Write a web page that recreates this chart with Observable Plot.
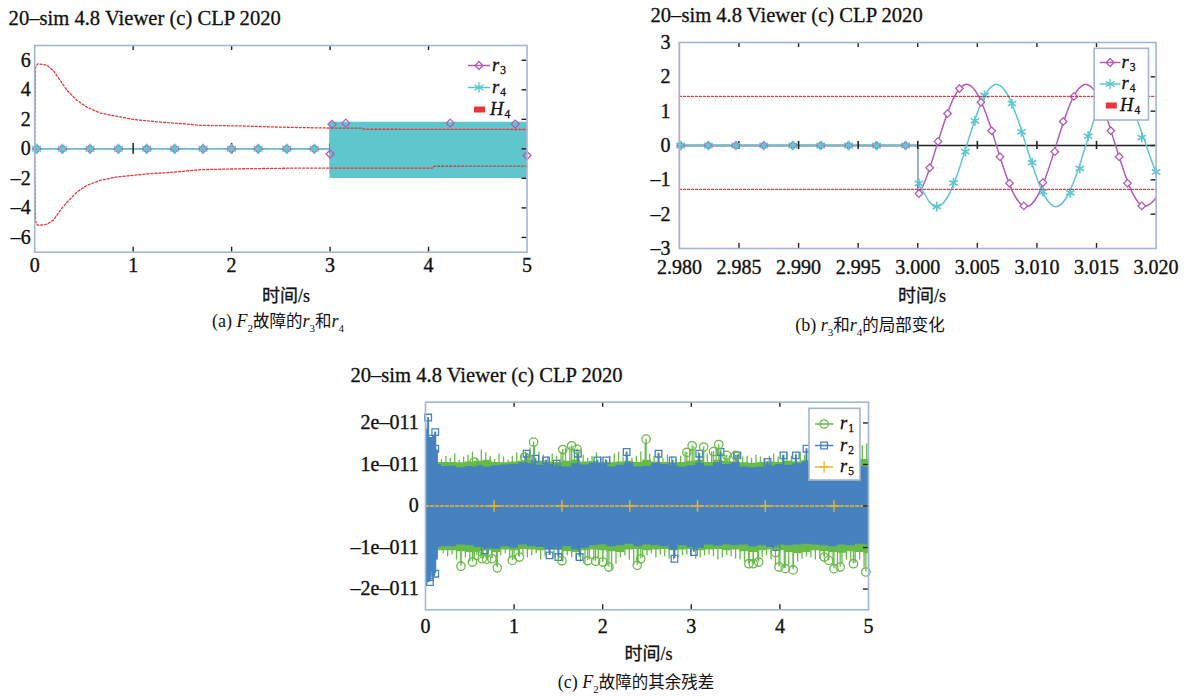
<!DOCTYPE html>
<html><head><meta charset="utf-8">
<script src="https://cdn.jsdelivr.net/npm/d3@7"></script>
<script src="https://cdn.jsdelivr.net/npm/@observablehq/plot@0.6"></script>
<style>
body{margin:0;background:#fff;}
#page{position:relative;width:1187px;height:698px;overflow:hidden;font-family:"Liberation Serif","Tinos","Times New Roman","Nimbus Roman","DejaVu Serif","Noto Sans CJK SC",serif;color:#111;background:#fff;}
.t{position:absolute;white-space:nowrap;line-height:1;-webkit-text-stroke:0.3px #111;}
.title{font-size:20.6px;transform:translateY(-50%);}
.xlab{font-size:18px;transform:translate(-50%,-50%);}
.xlab .zh{font-family:"Noto Sans CJK SC",sans-serif;}
.cap{font-size:18px;transform:translate(-50%,-50%);-webkit-text-stroke:0;}
.cap .zh{font-family:"Noto Sans CJK SC",sans-serif;font-size:16.5px;}
.cap sub{font-size:11px;vertical-align:-0.45em;}
</style></head><body><div id="page"></div>
<script>
// ---------- colours ----------
const frameColor = "#a3b6d3", cPurple = "#b35cb8", cCyan = "#5ec7cd", cRed = "#e8373c",
      cGreen = "#68bb48", cBlue = "#4682bf", cOrange = "#f0b323", cTick = "#222";
const FONT = '"Liberation Serif","Tinos","Times New Roman","Nimbus Roman","DejaVu Serif",serif';

// ---------- panel (a) data ----------
const aTicksX = [0, 1, 2, 3, 4, 5];
const aTicksY = [-6, -4, -2, 0, 2, 4, 6];
const aInnerX = [1, 2, 3, 4];
const aZeroTicks = [1, 2, 3, 4];
const h4UpT = [0, 0.008, 0.03, 0.08, 0.126, 0.19, 0.26, 0.33, 0.43, 0.53, 0.668, 0.837, 1.006, 1.17, 1.35, 1.51, 1.68, 1.9, 2.1, 2.45, 2.7, 3.0, 3.33, 3.34, 4.2, 5.0];
const h4Up  = [0, 5.5, 5.76, 5.72, 5.65, 5.3, 4.63, 3.95, 3.28, 2.82, 2.42, 2.2, 1.99, 1.88, 1.77, 1.70, 1.59, 1.57, 1.55, 1.48, 1.44, 1.41, 1.40, 1.33, 1.32, 1.31];
const h4LoT = [0, 0.008, 0.03, 0.08, 0.126, 0.19, 0.26, 0.33, 0.43, 0.53, 0.668, 0.837, 1.006, 1.17, 1.35, 1.51, 1.68, 1.9, 2.1, 2.45, 2.7, 4.04, 4.05, 5.0];
const h4Lo  = [0, -4.9, -5.17, -5.15, -5.1, -4.83, -4.16, -3.6, -2.92, -2.47, -2.13, -1.9, -1.79, -1.68, -1.61, -1.52, -1.41, -1.38, -1.35, -1.32, -1.30, -1.30, -1.18, -1.17];
const aPreT = [0, 3.0];
const aPreV = [0, 0];
const aMarkT = [0.02, 0.281, 0.562, 0.85, 1.138, 1.422, 1.71, 1.998, 2.27, 2.56, 2.84];
const aBlockT = [3.0, 5.0];
const aR3BlockHi = [1.76, 1.76], aR3BlockLo = [-1.76, -1.76];
const aR4BlockHi = [1.81, 1.81], aR4BlockLo = [-2.01, -2.01];
const aR3BlockMarkT = [3.0, 3.02, 3.16, 4.22, 4.88, 5.0];
const aR3BlockMarkV = [-0.35, 1.66, 1.74, 1.74, 1.68, -0.45];

// ---------- panel (b) data ----------
const bTicksX = [2.980, 2.985, 2.990, 2.995, 3.000, 3.005, 3.010, 3.015, 3.020];
const bTicksY = [-3, -2, -1, 0, 1, 2, 3];
const bInnerX = [2.985, 2.990, 2.995, 3.000, 3.005, 3.010, 3.015];
const bRightY = [-2, -1, 0, 1, 2];
const bPreT = [2.980, 3.000];
const bPreV = [0, 0];
const bT = [3.0000, 3.0005, 3.0010, 3.0015, 3.0020, 3.0025, 3.0030, 3.0035, 3.0040, 3.0045,
            3.0050, 3.0055, 3.0060, 3.0065, 3.0070, 3.0075, 3.0080, 3.0085, 3.0090, 3.0095,
            3.0100, 3.0105, 3.0110, 3.0115, 3.0120, 3.0125, 3.0130, 3.0135, 3.0140, 3.0145,
            3.0150, 3.0155, 3.0160, 3.0165, 3.0170, 3.0175, 3.0180, 3.0185, 3.0190, 3.0195, 3.0200];
const bR3 = [-1.45, -1.13, -0.66, -0.11, 0.44, 0.95, 1.37, 1.65, 1.78, 1.72,
             1.50, 1.13, 0.66, 0.11, -0.44, -0.95, -1.37, -1.65, -1.78, -1.72,
             -1.50, -1.13, -0.66, -0.11, 0.44, 0.95, 1.37, 1.65, 1.78, 1.72,
             1.50, 1.13, 0.66, 0.11, -0.44, -0.95, -1.37, -1.65, -1.77, -1.70, -1.52];
const bR4 = [-1.08, -1.37, -1.65, -1.78, -1.72, -1.50, -1.13, -0.66, -0.11, 0.44,
             0.95, 1.37, 1.65, 1.78, 1.72, 1.50, 1.13, 0.66, 0.11, -0.44,
             -0.95, -1.37, -1.65, -1.78, -1.72, -1.50, -1.13, -0.66, -0.11, 0.44,
             0.95, 1.37, 1.65, 1.78, 1.72, 1.50, 1.13, 0.66, 0.18, -0.33, -0.80];
const bPreMarkT = [2.9801, 2.98243, 2.98474, 2.98708, 2.98952, 2.99186, 2.9942, 2.99654, 2.99897];
const bR3MarkT = [3.0001, 3.0010, 3.0017, 3.0025, 3.0035, 3.0053, 3.0062, 3.0069, 3.0077, 3.0089, 3.0105, 3.0115, 3.0122, 3.0131, 3.0162, 3.0169, 3.0176, 3.0188];
const bR3MarkV = [-1.40, -0.65, 0.12, 0.93, 1.66, 1.26, 0.43, -0.33, -1.10, -1.76, -1.08, -0.18, 0.70, 1.43, 0.43, -0.33, -1.10, -1.76];
const bR4MarkT = [3.0001, 3.0016, 3.0030, 3.0040, 3.0048, 3.0056, 3.0079, 3.0087, 3.0096, 3.0105, 3.0128, 3.0136, 3.0143, 3.0188, 3.0200];
const bR4MarkV = [-1.10, -1.78, -1.09, -0.18, 0.72, 1.46, 1.22, 0.40, -0.50, -1.35, -1.38, -0.67, 0.27, 0.23, -0.77];
const bH4T = [2.980, 3.020];
const bH4Up = [1.43, 1.43];
const bH4Lo = [-1.28, -1.28];

// ---------- panel (c) data (values in units of 1e-11) ----------
const cTicksX = [0, 1, 2, 3, 4, 5];
const cTicksY = [-2, -1, 0, 1, 2];
const cInnerX = [1, 2, 3, 4];
const cEnvT = [0, 0.03, 0.06, 0.1, 0.13, 0.16, 0.2,
  0.3, 0.4, 0.5, 0.6, 0.7, 0.8, 0.9, 1.0, 1.1, 1.2, 1.3, 1.4, 1.5, 1.6, 1.7, 1.8, 1.9, 2.0, 2.1, 2.2,
  2.3, 2.4, 2.5, 2.6, 2.7, 2.8, 2.9, 3.0, 3.1, 3.2, 3.3, 3.4, 3.5, 3.6, 3.7, 3.8, 3.9, 4.0, 4.1, 4.2,
  4.3, 4.4, 4.5, 4.6, 4.7, 4.8, 4.9, 5.0];
const r2Hi = [2.0, 1.85, 1.65, 1.7, 1.35, 1.0, 0.95,
  0.96, 0.92, 0.95, 0.98, 0.94, 0.97, 0.99, 1.0, 1.04, 1.02, 0.98, 1.0, 0.96, 0.94, 1.02, 0.99, 1.03, 1.0, 0.94, 0.98,
  1.04, 0.94, 0.96, 1.03, 1.0, 0.98, 0.94, 0.97, 1.03, 0.96, 1.04, 1.0, 1.04, 0.94, 0.92, 0.94, 0.96, 1.0, 0.98, 1.02,
  1.06, 0.98, 0.94, 0.96, 0.98, 0.94, 0.96, 0.94];
const r2Lo = [-1.7, -1.85, -1.6, -1.7, -1.3, -1.0, -0.98,
  -0.98, -0.94, -0.96, -1.0, -1.02, -1.04, -0.98, -1.02, -0.94, -0.98, -1.0, -1.06, -1.04, -0.98, -1.06, -1.02, -0.96, -0.94, -0.98, -0.96,
  -0.92, -0.98, -0.94, -0.96, -0.98, -1.06, -0.96, -1.0, -1.02, -0.94, -0.97, -0.94, -0.96, -0.94, -0.98, -0.96, -1.0, -0.94, -0.96, -0.94,
  -0.92, -0.94, -0.96, -0.98, -0.94, -0.96, -0.92, -0.94];
const r1Hi = [1.6, 1.5, 1.4, 1.4, 1.2, 1.05, 1.05,
  1.05, 1.04, 1.06, 1.08, 1.1, 1.05, 1.04, 1.06, 1.08, 1.1, 1.08, 1.06, 1.05, 1.08, 1.1, 1.06, 1.07, 1.05, 1.04, 1.06,
  1.08, 1.05, 1.1, 1.06, 1.05, 1.04, 1.05, 1.08, 1.1, 1.05, 1.1, 1.08, 1.06, 1.04, 1.03, 1.05, 1.06, 1.05, 1.08, 1.06,
  1.1, 1.1, 1.06, 1.05, 1.08, 1.1, 1.12, 1.12];
const r1Lo = [-1.5, -1.5, -1.4, -1.4, -1.2, -1.08, -1.08,
  -1.08, -1.1, -1.12, -1.1, -1.08, -1.12, -1.06, -1.08, -1.05, -1.06, -1.08, -1.06, -1.07, -1.1, -1.12, -1.08, -1.06, -1.08, -1.1, -1.12,
  -1.06, -1.05, -1.08, -1.06, -1.05, -1.08, -1.06, -1.05, -1.08, -1.06, -1.05, -1.08, -1.06, -1.1, -1.12, -1.08, -1.06, -1.08, -1.12, -1.15,
  -1.12, -1.08, -1.1, -1.12, -1.14, -1.1, -1.12, -1.15];
const r1UpSpikeT = [0.18, 0.23, 0.28, 0.33, 0.38, 0.43, 0.48, 0.53, 0.58, 0.63, 0.68, 0.73, 0.78, 0.83, 0.88, 0.93, 0.98,
  1.03, 1.08, 1.13, 1.18, 1.23, 1.28, 1.33, 1.38, 1.43, 1.48, 1.53, 1.58, 1.63, 1.68, 1.73, 1.78, 1.83, 1.88, 1.93, 1.98,
  2.03, 2.08, 2.13, 2.18, 2.23, 2.28, 2.33, 2.38, 2.43, 2.48, 2.53, 2.58, 2.63, 2.68, 2.73, 2.78, 2.83, 2.88, 2.93, 2.98,
  3.03, 3.08, 3.13, 3.18, 3.23, 3.28, 3.33, 3.38, 3.43, 3.48, 3.53, 3.58, 3.63, 3.68, 3.73, 3.78, 3.83, 3.88, 3.93, 3.98,
  4.03, 4.08, 4.13, 4.18, 4.23, 4.28, 4.33, 4.38, 4.43, 4.48, 4.53, 4.58, 4.63, 4.68, 4.73, 4.78, 4.83, 4.88, 4.93, 4.98];
const r1UpSpikeV = [1.12, 1.2, 1.15, 1.25, 1.1, 1.18, 1.22, 1.3, 1.15, 1.35, 1.28, 1.2, 1.12, 1.25, 1.18, 1.1, 1.2,
  1.28, 1.22, 1.3, 1.4, 1.45, 1.3, 1.22, 1.18, 1.25, 1.2, 1.3, 1.38, 1.42, 1.35, 1.3, 1.22, 1.15, 1.2, 1.28, 1.18,
  1.12, 1.2, 1.25, 1.3, 1.18, 1.22, 1.15, 1.2, 1.3, 1.5, 1.25, 1.2, 1.28, 1.15, 1.22, 1.18, 1.12, 1.2, 1.3, 1.38,
  1.42, 1.3, 1.35, 1.25, 1.3, 1.4, 1.35, 1.22, 1.2, 1.3, 1.25, 1.18, 1.2, 1.15, 1.22, 1.18, 1.12, 1.2, 1.25, 1.18,
  1.22, 1.28, 1.2, 1.25, 1.3, 1.22, 1.35, 1.28, 1.2, 1.25, 1.3, 1.22, 1.28, 1.35, 1.25, 1.3, 1.4, 1.35, 1.45, 1.5];
const r1LoSpikeT = [0.2, 0.25, 0.3, 0.35, 0.4, 0.45, 0.5, 0.55, 0.6, 0.65, 0.7, 0.75, 0.8, 0.85, 0.9, 0.95, 1.0,
  1.05, 1.1, 1.15, 1.2, 1.25, 1.3, 1.35, 1.4, 1.45, 1.5, 1.55, 1.6, 1.65, 1.7, 1.75, 1.8, 1.85, 1.9, 1.95, 2.0,
  2.05, 2.1, 2.15, 2.2, 2.25, 2.3, 2.35, 2.4, 2.45, 2.5, 2.55, 2.6, 2.65, 2.7, 2.75, 2.8, 2.85, 2.9, 2.95, 3.0,
  3.05, 3.1, 3.15, 3.2, 3.25, 3.3, 3.35, 3.4, 3.45, 3.5, 3.55, 3.6, 3.65, 3.7, 3.75, 3.8, 3.85, 3.9, 3.95, 4.0,
  4.05, 4.1, 4.15, 4.2, 4.25, 4.3, 4.35, 4.4, 4.45, 4.5, 4.55, 4.6, 4.65, 4.7, 4.75, 4.8, 4.85, 4.9, 4.95, 5.0];
const r1LoSpikeV = [-1.15, -1.22, -1.18, -1.3, -1.4, -1.25, -1.35, -1.3, -1.22, -1.28, -1.32, -1.25, -1.45, -1.2, -1.15, -1.28, -1.3,
  -1.22, -1.18, -1.25, -1.2, -1.15, -1.3, -1.22, -1.18, -1.25, -1.3, -1.35, -1.2, -1.25, -1.3, -1.35, -1.4, -1.3, -1.32, -1.28, -1.35,
  -1.45, -1.55, -1.4, -1.25, -1.2, -1.3, -1.42, -1.35, -1.25, -1.2, -1.15, -1.25, -1.18, -1.22, -1.28, -1.3, -1.25, -1.2, -1.18, -1.22,
  -1.28, -1.25, -1.2, -1.18, -1.22, -1.3, -1.25, -1.2, -1.22, -1.28, -1.3, -1.35, -1.38, -1.4, -1.32, -1.25, -1.2, -1.3, -1.42, -1.45,
  -1.5, -1.45, -1.5, -1.35, -1.28, -1.22, -1.25, -1.3, -1.28, -1.25, -1.3, -1.45, -1.48, -1.4, -1.3, -1.35, -1.38, -1.3, -1.5, -1.55];
const r1MarkT = [0.40, 0.53, 0.58, 0.64, 0.69, 0.75, 0.81, 0.98, 1.06, 1.22, 1.55, 1.65, 1.71, 1.54, 1.83, 1.92, 2.0, 2.07, 2.39, 2.43, 2.49, 2.95, 3.01, 3.14, 3.25, 3.31, 3.40, 3.50, 3.65, 3.70, 3.76, 3.95, 3.99, 4.06, 4.15, 4.50, 4.55, 4.61, 4.68, 4.83, 4.97, 0.55, 1.12];
const r1MarkV = [-1.45, -1.35, -1.19, -1.27, -1.28, -1.27, -1.49, -1.31, -1.23, 1.54, 1.36, 1.45, 1.37, -1.32, -1.32, -1.33, -1.35, -1.47, -1.43, -1.27, 1.61, 1.29, 1.45, 1.42, 1.31, 1.48, 1.22, 1.22, -1.39, -1.39, -1.35, -1.12, -1.47, -1.51, -1.54, -1.23, -1.31, -1.51, -1.47, -1.39, -1.59, 1.06, 1.18];
const r2MarkT = [0.03, 0.07, 0.11, 0.11, 1.14, 1.24, 1.36, 1.48, 1.72, 1.94, 2.04, 2.27, 2.63, 2.79, 3.09, 3.33, 3.52, 3.86, 4.04, 4.18, 4.30,
  0.05, 0.11, 0.05, 0.67, 1.40, 1.50, 1.74, 2.81, 3.03, 3.96];
const r2MarkV = [2.13, 1.62, 1.78, 1.38, 1.26, 1.14, 1.10, 1.02, 1.26, 1.10, 1.10, 1.30, 1.26, 1.10, 1.26, 1.30, 1.22, 1.06, 1.22, 1.22, 1.38,
  -1.71, -1.63, -1.83, -1.07, -1.19, -1.23, -1.23, -1.27, -1.11, -0.99];
const r5T = [0, 5];
const r5V = [0, 0];
const r5MarkT = [0.774, 1.54, 2.306, 3.07, 3.835, 4.61];
const E11 = 1e-11;

// ---------- helpers ----------
const page = document.getElementById("page");
const rows = (ts, vs) => ts.map((t, i) => ({t, v: vs[i]}));
const band = (ts, lo, hi) => ts.map((t, i) => ({t, lo: lo[i], hi: hi[i]}));
const minusFmt = d => d < 0 ? "\u2013" + (-d) : String(d);

function frameTicks(xd, yd, xin, yr, fw, fh, len = 5) {
  const ly = (yd[1] - yd[0]) * len / fh, lx = (xd[1] - xd[0]) * len / fw;
  return [
    Plot.ruleX(xin, {x: d => d, y1: yd[1], y2: yd[1] - ly, stroke: cTick, strokeWidth: 1.4}),
    Plot.ruleX(xin, {x: d => d, y1: yd[0], y2: yd[0] + ly, stroke: cTick, strokeWidth: 1.4}),
    Plot.ruleY(yr, {y: d => d, x1: xd[1], x2: xd[1] - lx, stroke: cTick, strokeWidth: 1.4})
  ];
}
function place(o) {
  const p = Plot.plot({
    width: o.w, height: o.h,
    marginLeft: o.ml, marginRight: o.mr, marginTop: o.mt, marginBottom: o.mb,
    style: {fontFamily: FONT, fontSize: "20px", color: "#111", background: "none", overflow: "visible"},
    x: {domain: o.xd, ticks: o.xt, tickFormat: o.xf, tickSize: 0, tickPadding: o.xp, label: null},
    y: {domain: o.yd, ticks: o.yt, tickFormat: o.yf, tickSize: 0, tickPadding: o.yp, label: null},
    marks: [...o.marks, ...frameTicks(o.xd, o.yd, o.xin, o.yr, o.w - o.ml - o.mr, o.h - o.mt - o.mb),
            Plot.frame({stroke: frameColor, strokeWidth: 1.6})]
  });
  p.style.position = "absolute"; p.style.left = o.left + "px"; p.style.top = o.top + "px";
  p.querySelectorAll("text").forEach(t => { t.style.fontFamily = FONT; t.style.stroke = "#111"; t.style.strokeWidth = "0.35px"; });
  page.appendChild(p);
}
function html(cls, x, y, s) {
  const d = document.createElement("div");
  d.className = "t " + cls; d.style.left = x + "px"; d.style.top = y + "px"; d.innerHTML = s;
  page.appendChild(d);
}
function legend(box, items) {
  const svg = d3.create("svg").attr("width", 1187).attr("height", 698)
    .style("position", "absolute").style("left", "0px").style("top", "0px").style("pointer-events", "none");
  if (box) svg.append("rect").attr("x", box[0]).attr("y", box[1]).attr("width", box[2] - box[0]).attr("height", box[3] - box[1])
    .attr("fill", "#fff").attr("stroke", frameColor).attr("stroke-width", 1.6);
  for (const it of items) {
    if (it.rect) {
      svg.append("rect").attr("x", it.x0 + 6).attr("y", it.y - 3).attr("width", 11).attr("height", 6).attr("fill", it.color);
    } else {
      svg.append("line").attr("x1", it.x0).attr("x2", it.x1).attr("y1", it.y).attr("y2", it.y)
        .attr("stroke", it.color).attr("stroke-width", 1.5).attr("stroke-dasharray", it.dash || null);
      svg.append("path").attr("transform", `translate(${(it.x0 + it.x1) / 2},${it.y})`)
        .attr("d", d3.symbol(it.sym, it.size)()).attr("fill", "none").attr("stroke", it.color).attr("stroke-width", 1.3);
    }
    const t = svg.append("text").attr("x", it.tx).attr("y", it.y + 5).style("font-family", FONT).attr("fill", "#111")
      .attr("stroke", "#111").attr("stroke-width", 0.3);
    t.append("tspan").attr("font-style", "italic").attr("font-size", 18.5).text(it.label);
    t.append("tspan").attr("font-size", 11.5).attr("dy", 3).attr("dx", 1).text(it.sub);
  }
  page.appendChild(svg.node());
}

// ---------- panel (a) ----------
place({
  left: 0, top: 0, w: 545, h: 290, ml: 34.2, mr: 18.5, mt: 45, mb: 38.3,
  xd: [0, 5], yd: [-7, 7], xt: aTicksX, yt: aTicksY, xf: d => String(d), yf: minusFmt, xp: 6, yp: 4,
  xin: aInnerX, yr: aTicksY,
  marks: [
    Plot.line(rows(aPreT, aPreV), {x: "t", y: "v", stroke: cPurple, strokeWidth: 1.5}),
    Plot.line(rows(aPreT, aPreV), {x: "t", y: "v", stroke: cCyan, strokeWidth: 1.5}),
    Plot.ruleX(aZeroTicks, {x: d => d, y1: -0.37, y2: 0.37, stroke: cTick, strokeWidth: 1.5}),
    Plot.dot(aMarkT, {x: d => d, y: 0, symbol: "diamond2", r: 3.8, stroke: cPurple, fill: "#c9a3cf", strokeWidth: 1.3}),
    Plot.dot(aMarkT, {x: d => d, y: 0, symbol: "asterisk", r: 4.8, stroke: cCyan, strokeWidth: 1.6}),
    Plot.areaY(band(aBlockT, aR3BlockLo, aR3BlockHi), {x: "t", y1: "lo", y2: "hi", fill: cPurple}),
    Plot.areaY(band(aBlockT, aR4BlockLo, aR4BlockHi), {x: "t", y1: "lo", y2: "hi", fill: cCyan}),
    Plot.dot(rows(aR3BlockMarkT, aR3BlockMarkV), {x: "t", y: "v", symbol: "diamond2", r: 3.6, stroke: cPurple, strokeWidth: 1.3}),
    Plot.line(rows(h4UpT, h4Up), {x: "t", y: "v", stroke: cRed, strokeWidth: 1.3, strokeDasharray: "2,2"}),
    Plot.line(rows(h4LoT, h4Lo), {x: "t", y: "v", stroke: cRed, strokeWidth: 1.3, strokeDasharray: "2,2"})
  ]
});

// ---------- panel (b) ----------
place({
  left: 640, top: 0, w: 547, h: 290, ml: 38.9, mr: 31.4, mt: 42, mb: 42,
  xd: [2.98, 3.02], yd: [-3, 3], xt: bTicksX, yt: bTicksY, xf: d3.format(".3f"), yf: minusFmt, xp: 11, yp: 9,
  xin: bInnerX, yr: bRightY,
  marks: [
    Plot.ruleX([2.98], {y1: -3, y2: 3, stroke: cRed, strokeWidth: 1.2, strokeOpacity: 0.8}),
    Plot.ruleY([0], {x1: 2.98, x2: 3.02, stroke: cTick, strokeWidth: 1.6}),
    Plot.line([...rows(bPreT, bPreV), {t: 3.0, v: bR3[0]}], {x: "t", y: "v", stroke: cPurple, strokeWidth: 1.5}),
    Plot.line([...rows(bPreT, bPreV), {t: 3.0, v: bR4[0]}], {x: "t", y: "v", stroke: cCyan, strokeWidth: 1.5}),
    Plot.ruleX(bInnerX, {x: d => d, y1: -0.12, y2: 0.12, stroke: cTick, strokeWidth: 1.6}),
    Plot.line(rows(bT, bR3), {x: "t", y: "v", stroke: cPurple, strokeWidth: 1.5, curve: "catmull-rom"}),
    Plot.line(rows(bT, bR4), {x: "t", y: "v", stroke: cCyan, strokeWidth: 1.5, curve: "catmull-rom"}),
    Plot.dot(bPreMarkT, {x: d => d, y: 0, symbol: "diamond2", r: 3.4, stroke: cPurple, fill: "#c9a3cf", strokeWidth: 1.3}),
    Plot.dot(bPreMarkT, {x: d => d, y: 0, symbol: "asterisk", r: 4.6, stroke: cCyan, strokeWidth: 1.6}),
    Plot.dot(rows(bR3MarkT, bR3MarkV), {x: "t", y: "v", symbol: "diamond2", r: 3.4, stroke: cPurple, fill: "#fff", strokeWidth: 1.3}),
    Plot.dot(rows(bR4MarkT, bR4MarkV), {x: "t", y: "v", symbol: "asterisk", r: 4.6, stroke: cCyan, strokeWidth: 1.6}),
    Plot.line(rows(bH4T, bH4Up), {x: "t", y: "v", stroke: cRed, strokeWidth: 1.3, strokeDasharray: "2,2"}),
    Plot.line(rows(bH4T, bH4Lo), {x: "t", y: "v", stroke: cRed, strokeWidth: 1.3, strokeDasharray: "2,2"})
  ]
});

// ---------- panel (c) ----------
const sc = a => a.map(v => v * E11);
place({
  left: 380, top: 390, w: 500, h: 250, ml: 45, mr: 12, mt: 11.7, mb: 30.7,
  xd: [0, 5], yd: [-2.5 * E11, 2.5 * E11], xt: cTicksX, yt: sc(cTicksY), xf: d => String(d),
  yf: d => Math.abs(d) < 1e-15 ? "0" : (d < 0 ? "\u2013" : "") + Math.round(Math.abs(d) / E11) + "e\u2013011",
  xp: 8.5, yp: 6.8, xin: cInnerX, yr: sc(cTicksY),
  marks: [
    Plot.areaY(band(cEnvT, sc(r1Lo), sc(r1Hi)), {x: "t", y1: "lo", y2: "hi", fill: cGreen, curve: "step"}),
    Plot.ruleX(rows(r1UpSpikeT, sc(r1UpSpikeV)), {x: "t", y1: 0, y2: "v", stroke: cGreen, strokeWidth: 1.3}),
    Plot.ruleX(rows(r1LoSpikeT, sc(r1LoSpikeV)), {x: "t", y1: 0, y2: "v", stroke: cGreen, strokeWidth: 1.3}),
    Plot.ruleX(rows(r1MarkT, sc(r1MarkV)), {x: "t", y1: 0, y2: "v", stroke: cGreen, strokeWidth: 1.3}),
    Plot.areaY(band(cEnvT, sc(r2Lo), sc(r2Hi)), {x: "t", y1: "lo", y2: "hi", fill: cBlue, curve: "step"}),
    Plot.ruleX(rows(r2MarkT, sc(r2MarkV)), {x: "t", y1: 0, y2: "v", stroke: cBlue, strokeWidth: 2}),
    Plot.dot(rows(r2MarkT, sc(r2MarkV)), {x: "t", y: "v", symbol: "square2", r: 4.2, stroke: cBlue, strokeWidth: 1.3}),
    Plot.dot(rows(r1MarkT, sc(r1MarkV)), {x: "t", y: "v", symbol: "circle", r: 4.2, stroke: cGreen, strokeWidth: 1.3}),
    Plot.line(rows(r5T, r5V), {x: "t", y: "v", stroke: cOrange, strokeWidth: 1.5, strokeDasharray: "3,2"}),
    Plot.dot(r5MarkT, {x: d => d, y: 0, symbol: "plus", r: 3.8, stroke: cOrange, strokeWidth: 1.4})
  ]
});

// ---------- texts ----------
html("title", 8.6, 18.3, "20\u2013sim 4.8 Viewer (c) CLP 2020");
html("title", 650.5, 15, "20\u2013sim 4.8 Viewer (c) CLP 2020");
html("title", 350.4, 375, "20\u2013sim 4.8 Viewer (c) CLP 2020");
html("xlab", 286, 294.5, '<span class="zh">时间</span>/s');
html("xlab", 922, 295, '<span class="zh">时间</span>/s');
html("xlab", 648.6, 653.3, '<span class="zh">时间</span>/s');
html("cap", 278, 322.5, '(a) <i>F</i><sub>2</sub><span class="zh">故障的</span><i>r</i><sub>3</sub><span class="zh">和</span><i>r</i><sub>4</sub>');
html("cap", 870, 327, '(b) <i>r</i><sub>3</sub><span class="zh">和</span><i>r</i><sub>4</sub><span class="zh">的局部变化</span>');
html("cap", 636, 684, '(c) <i>F</i><sub>2</sub><span class="zh">故障的其余残差</span>');

// ---------- legends ----------
legend(null, [
  {label: "r", sub: "3", color: cPurple, sym: d3.symbolDiamond2, size: 40, x0: 468, x1: 490, y: 65.5, tx: 492},
  {label: "r", sub: "4", color: cCyan, sym: d3.symbolAsterisk, size: 75, x0: 468, x1: 490, y: 87.5, tx: 492},
  {label: "H", sub: "4", color: cRed, rect: true, x0: 468, x1: 490, y: 109.5, tx: 490}
]);
legend([1094.2, 48.3, 1148.5, 120], [
  {label: "r", sub: "3", color: cPurple, sym: d3.symbolDiamond2, size: 40, x0: 1099.8, x1: 1120.4, y: 62.5, tx: 1121.5},
  {label: "r", sub: "4", color: cCyan, sym: d3.symbolAsterisk, size: 75, x0: 1099.8, x1: 1120.4, y: 84, tx: 1121.5},
  {label: "H", sub: "4", color: cRed, rect: true, x0: 1099.8, x1: 1120.4, y: 105.5, tx: 1120}
]);
legend([809, 408.3, 860, 480], [
  {label: "r", sub: "1", color: cGreen, sym: d3.symbolCircle, size: 55, x0: 815, x1: 833.3, y: 424, tx: 840},
  {label: "r", sub: "2", color: cBlue, sym: d3.symbolSquare2, size: 55, x0: 815, x1: 833.3, y: 445.5, tx: 840},
  {label: "r", sub: "5", color: cOrange, sym: d3.symbolPlus, size: 45, x0: 815, x1: 833.3, y: 467, tx: 840, dash: "3,2"}
]);
</script>
</body></html>
